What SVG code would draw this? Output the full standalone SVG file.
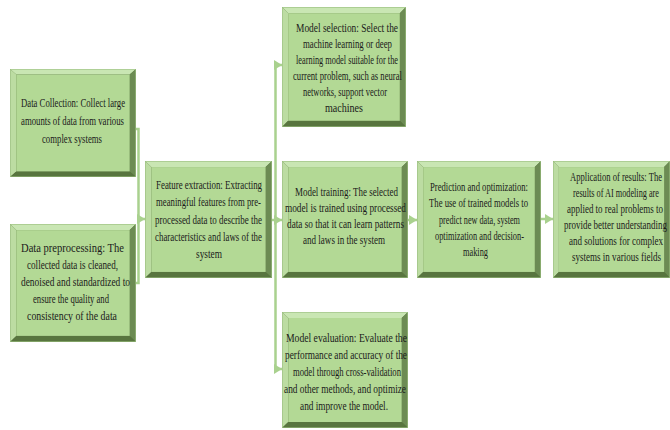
<svg xmlns="http://www.w3.org/2000/svg" xmlns:xlink="http://www.w3.org/1999/xlink" width="670" height="430" viewBox="0 0 670 430">
<style>
.t{font-family:"Liberation Serif","Times New Roman",serif;font-size:13px;fill:#1b1b1b;text-anchor:middle}
.c{fill:none;stroke:#a9d18e;stroke-width:2.5}
</style>
<defs>
<symbol id="bevel" viewBox="0 0 120 116" preserveAspectRatio="none">
<rect x="0" y="0" width="120" height="116" fill="#58753f"/>
<polygon points="0,0 120,0 114,6 6,6" fill="#c9e6b3"/>
<polygon points="0,0 6,6 6,110 0,116" fill="#bcdca2"/>
<polygon points="120,0 120,116 114,110 114,6" fill="#6c8b53"/>
<polygon points="0,116 120,116 114,110 6,110" fill="#58753f"/>
<rect x="6" y="6" width="108" height="104" fill="#b3d995"/>
<rect x="0.3" y="0.3" width="119.4" height="115.4" fill="none" stroke="#9bbf80" stroke-width="0.6"/>
</symbol>
<marker id="ah" markerUnits="userSpaceOnUse" markerWidth="9" markerHeight="10" refX="8" refY="5" orient="auto">
<path d="M0,0 L8,5 L0,10 z" fill="#a9d18e"/>
</marker>
</defs>
<rect width="670" height="430" fill="#ffffff"/>

<g id="connectors">
<path class="c" d="M135,129 H138.5 V219 H145" marker-end="url(#ah)"/>
<path class="c" d="M135,283 H138.5 V219"/>
<path class="c" d="M272,220 H275.5"/>
<path class="c" d="M275.5,65 V369"/>
<path class="c" d="M275.5,65 H282" marker-end="url(#ah)"/>
<path class="c" d="M275.5,220 H282" marker-end="url(#ah)"/>
<path class="c" d="M275.5,369 H282" marker-end="url(#ah)"/>
<path class="c" d="M408,220 H417" marker-end="url(#ah)"/>
<path class="c" d="M541,219 H553" marker-end="url(#ah)"/>
</g>

<g id="data-collection">
<use xlink:href="#bevel" href="#bevel" x="10" y="69" width="126" height="108"/>
<g transform="translate(73 0) scale(0.67 1)">
<text class="t" x="0" y="107" textLength="155.2" lengthAdjust="spacingAndGlyphs">Data Collection: Collect large</text>
<text class="t" x="-0.75" y="125" textLength="153.7" lengthAdjust="spacingAndGlyphs">amounts of data from various</text>
<text class="t" x="-1.5" y="143" textLength="89.6" lengthAdjust="spacingAndGlyphs">complex systems</text>
</g>
</g>

<g id="data-preprocessing">
<use xlink:href="#bevel" href="#bevel" x="10" y="224" width="126" height="118"/>
<g transform="translate(73 0) scale(0.67 1)">
<text class="t" x="-0.75" y="252" textLength="153.7" lengthAdjust="spacingAndGlyphs">Data preprocessing: The</text>
<text class="t" x="-0.75" y="269" textLength="135.8" lengthAdjust="spacingAndGlyphs">collected data is cleaned,</text>
<text class="t" x="3.7" y="286" textLength="162.7" lengthAdjust="spacingAndGlyphs">denoised and standardized to</text>
<text class="t" x="-3" y="303" textLength="113.4" lengthAdjust="spacingAndGlyphs">ensure the quality and</text>
<text class="t" x="-1.5" y="320" textLength="134.3" lengthAdjust="spacingAndGlyphs">consistency of the data</text>
</g>
</g>

<g id="feature-extraction">
<use xlink:href="#bevel" href="#bevel" x="145" y="161" width="127" height="117"/>
<g transform="translate(208.5 0) scale(0.67 1)">
<text class="t" x="0.75" y="189" textLength="158.2" lengthAdjust="spacingAndGlyphs">Feature extraction: Extracting</text>
<text class="t" x="0" y="206.3" textLength="156.7" lengthAdjust="spacingAndGlyphs">meaningful features from pre-</text>
<text class="t" x="0" y="223.6" textLength="159.7" lengthAdjust="spacingAndGlyphs">processed data to describe the</text>
<text class="t" x="0" y="240.9" textLength="159.7" lengthAdjust="spacingAndGlyphs">characteristics and laws of the</text>
<text class="t" x="0.75" y="258.2" textLength="38.8" lengthAdjust="spacingAndGlyphs">system</text>
</g>
</g>

<g id="model-selection">
<use xlink:href="#bevel" href="#bevel" x="282" y="7" width="124" height="120"/>
<g transform="translate(346 0) scale(0.67 1)">
<text class="t" x="1.5" y="32" textLength="152.2" lengthAdjust="spacingAndGlyphs">Model selection: Select the</text>
<text class="t" x="2.2" y="48" textLength="132.8" lengthAdjust="spacingAndGlyphs">machine learning or deep</text>
<text class="t" x="1.5" y="64" textLength="152.2" lengthAdjust="spacingAndGlyphs">learning model suitable for the</text>
<text class="t" x="2.2" y="80" textLength="162.7" lengthAdjust="spacingAndGlyphs">current problem, such as neural</text>
<text class="t" x="-1.5" y="96" textLength="125.4" lengthAdjust="spacingAndGlyphs">networks, support vector</text>
<text class="t" x="-3" y="112" textLength="56.7" lengthAdjust="spacingAndGlyphs">machines</text>
</g>
</g>

<g id="model-training">
<use xlink:href="#bevel" href="#bevel" x="282" y="161" width="126" height="117"/>
<g transform="translate(345 0) scale(0.67 1)">
<text class="t" x="2.2" y="196" textLength="153.7" lengthAdjust="spacingAndGlyphs">Model training: The selected</text>
<text class="t" x="0.75" y="212" textLength="180.6" lengthAdjust="spacingAndGlyphs">model is trained using processed</text>
<text class="t" x="0.75" y="228" textLength="174.6" lengthAdjust="spacingAndGlyphs">data so that it can learn patterns</text>
<text class="t" x="-1.5" y="244" textLength="122.4" lengthAdjust="spacingAndGlyphs">and laws in the system</text>
</g>
</g>

<g id="model-evaluation">
<use xlink:href="#bevel" href="#bevel" x="282" y="312" width="126" height="116"/>
<g transform="translate(345 0) scale(0.67 1)">
<text class="t" x="2.2" y="342" textLength="180.6" lengthAdjust="spacingAndGlyphs">Model evaluation: Evaluate the</text>
<text class="t" x="1.5" y="359" textLength="182.1" lengthAdjust="spacingAndGlyphs">performance and accuracy of the</text>
<text class="t" x="3" y="376" textLength="161.2" lengthAdjust="spacingAndGlyphs">model through cross-validation</text>
<text class="t" x="0" y="393" textLength="182.1" lengthAdjust="spacingAndGlyphs">and other methods, and optimize</text>
<text class="t" x="-1.5" y="410" textLength="131.3" lengthAdjust="spacingAndGlyphs">and improve the model.</text>
</g>
</g>

<g id="prediction-optimization">
<use xlink:href="#bevel" href="#bevel" x="417" y="161" width="124" height="117"/>
<g transform="translate(479 0) scale(0.67 1)">
<text class="t" x="0" y="191" textLength="146.3" lengthAdjust="spacingAndGlyphs">Prediction and optimization:</text>
<text class="t" x="-0.75" y="207.3" textLength="147.8" lengthAdjust="spacingAndGlyphs">The use of trained models to</text>
<text class="t" x="0.75" y="223.6" textLength="120.9" lengthAdjust="spacingAndGlyphs">predict new data, system</text>
<text class="t" x="0.75" y="239.9" textLength="132.8" lengthAdjust="spacingAndGlyphs">optimization and decision-</text>
<text class="t" x="-5.2" y="256.2" textLength="37.3" lengthAdjust="spacingAndGlyphs">making</text>
</g>
</g>

<g id="application-results">
<use xlink:href="#bevel" href="#bevel" x="553" y="161" width="117" height="117"/>
<g transform="translate(616 0) scale(0.67 1)">
<text class="t" x="0" y="181" textLength="137.3" lengthAdjust="spacingAndGlyphs">Application of results: The</text>
<text class="t" x="0" y="197" textLength="128.4" lengthAdjust="spacingAndGlyphs">results of AI modeling are</text>
<text class="t" x="-1.5" y="213" textLength="143.3" lengthAdjust="spacingAndGlyphs">applied to real problems to</text>
<text class="t" x="-0.75" y="229" textLength="153.7" lengthAdjust="spacingAndGlyphs">provide better understanding</text>
<text class="t" x="0" y="245" textLength="140.3" lengthAdjust="spacingAndGlyphs">and solutions for complex</text>
<text class="t" x="0.75" y="261" textLength="132.8" lengthAdjust="spacingAndGlyphs">systems in various fields</text>
</g>
</g>
</svg>
